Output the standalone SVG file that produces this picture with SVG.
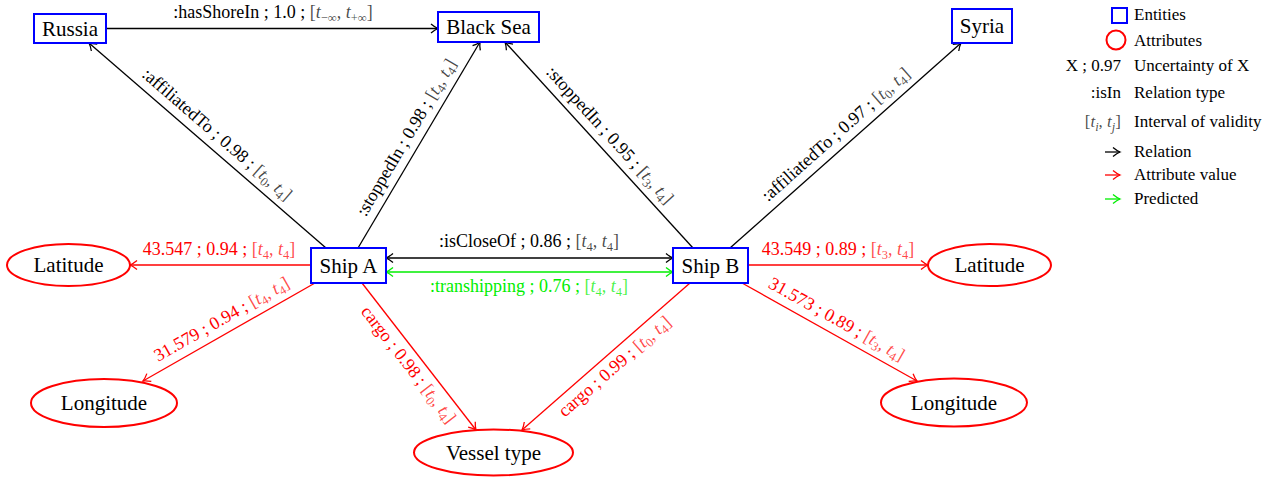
<svg xmlns="http://www.w3.org/2000/svg" width="1279" height="477" viewBox="0 0 1279 477">
<style>
text{font-family:"Liberation Serif","Times New Roman",serif}
.nt{font-size:21px;fill:#000;text-anchor:middle}
.lb{font-size:18px;text-anchor:middle}
.lg{font-size:17px;fill:#000}
.k{fill:#000}
.r{fill:#ff0000}
.g{fill:#00ee00}
.m{fill-opacity:0.72}
.i{font-style:italic}
.s{font-size:12.5px}
.box{fill:#fff;stroke:#0000ff;stroke-width:2}
.ell{fill:#fff;stroke:#ff0000;stroke-width:2}
.ek{stroke:#000;stroke-width:1.3;fill:none}
.er{stroke:#ff0000;stroke-width:1.3;fill:none}
.eg{stroke:#00ee00;stroke-width:1.3;fill:none}
</style>
<defs>
<marker id="ak" viewBox="-8 -6 10 12" refX="0" refY="0" markerWidth="10" markerHeight="12" markerUnits="userSpaceOnUse" orient="auto-start-reverse" overflow="visible"><path d="M -7 -4.5 C -4 -2 -1.5 -0.6 0 0 C -1.5 0.6 -4 2 -7 4.5" fill="none" stroke="#000" stroke-width="1.3"/></marker>
<marker id="ar" viewBox="-8 -6 10 12" refX="0" refY="0" markerWidth="10" markerHeight="12" markerUnits="userSpaceOnUse" orient="auto-start-reverse" overflow="visible"><path d="M -7 -4.5 C -4 -2 -1.5 -0.6 0 0 C -1.5 0.6 -4 2 -7 4.5" fill="none" stroke="#ff0000" stroke-width="1.3"/></marker>
<marker id="ag" viewBox="-8 -6 10 12" refX="0" refY="0" markerWidth="10" markerHeight="12" markerUnits="userSpaceOnUse" orient="auto-start-reverse" overflow="visible"><path d="M -7 -4.5 C -4 -2 -1.5 -0.6 0 0 C -1.5 0.6 -4 2 -7 4.5" fill="none" stroke="#00ee00" stroke-width="1.3"/></marker>
</defs>

<g id="connectors">
<line class="ek" x1="106" y1="28.5" x2="438" y2="28.5" marker-end="url(#ak)"/>
<line class="ek" x1="326" y1="248" x2="89" y2="43" marker-end="url(#ak)"/>
<line class="ek" x1="358" y1="248" x2="480" y2="42" marker-end="url(#ak)"/>
<line class="ek" x1="693" y1="248" x2="505" y2="42" marker-end="url(#ak)"/>
<line class="ek" x1="730" y1="248" x2="961" y2="43" marker-end="url(#ak)"/>
<line class="ek" x1="386" y1="258" x2="673" y2="258" marker-start="url(#ak)" marker-end="url(#ak)"/>
<line class="eg" x1="386" y1="272" x2="673" y2="272" marker-start="url(#ag)" marker-end="url(#ag)"/>
<line class="er" x1="311" y1="265" x2="130" y2="265" marker-end="url(#ar)"/>
<line class="er" x1="315" y1="283" x2="143" y2="381" marker-end="url(#ar)"/>
<line class="er" x1="362" y1="283" x2="476" y2="430" marker-end="url(#ar)"/>
<line class="er" x1="690" y1="283" x2="522" y2="430" marker-end="url(#ar)"/>
<line class="er" x1="748" y1="265" x2="928" y2="265" marker-end="url(#ar)"/>
<line class="er" x1="742" y1="283" x2="917" y2="381" marker-end="url(#ar)"/>

<text class="lb k" x="273" y="18">:hasShoreIn ; 1.0 ; <tspan class="m">[<tspan class="i">t</tspan><tspan class="s" dy="3.5">−∞</tspan><tspan dy="-3.5">, </tspan><tspan class="i">t</tspan><tspan class="s" dy="3.5">+∞</tspan><tspan dy="-3.5">]</tspan></tspan></text>
<text class="lb k" transform="translate(207.5,145.5) rotate(40.86)" y="-9">:affiliatedTo ; 0.98 ; <tspan class="m">[<tspan class="i">t</tspan><tspan class="s" dy="3.5">0</tspan><tspan dy="-3.5">, </tspan><tspan class="i">t</tspan><tspan class="s" dy="3.5">4</tspan><tspan dy="-3.5">]</tspan></tspan></text>
<text class="lb k" transform="translate(419,145) rotate(-59.36)" y="-9">:stoppedIn ; 0.98 ; <tspan class="m">[<tspan class="i">t</tspan><tspan class="s" dy="3.5">4</tspan><tspan dy="-3.5">, </tspan><tspan class="i">t</tspan><tspan class="s" dy="3.5">4</tspan><tspan dy="-3.5">]</tspan></tspan></text>
<text class="lb k" transform="translate(599,145) rotate(47.62)" y="-9">:stoppedIn ; 0.95 ; <tspan class="m">[<tspan class="i">t</tspan><tspan class="s" dy="3.5">3</tspan><tspan dy="-3.5">, </tspan><tspan class="i">t</tspan><tspan class="s" dy="3.5">4</tspan><tspan dy="-3.5">]</tspan></tspan></text>
<text class="lb k" transform="translate(845.5,145.5) rotate(-41.58)" y="-9">:affiliatedTo ; 0.97 ; <tspan class="m">[<tspan class="i">t</tspan><tspan class="s" dy="3.5">0</tspan><tspan dy="-3.5">, </tspan><tspan class="i">t</tspan><tspan class="s" dy="3.5">4</tspan><tspan dy="-3.5">]</tspan></tspan></text>
<text class="lb k" x="529" y="247">:isCloseOf ; 0.86 ; <tspan class="m">[<tspan class="i">t</tspan><tspan class="s" dy="3.5">4</tspan><tspan dy="-3.5">, </tspan><tspan class="i">t</tspan><tspan class="s" dy="3.5">4</tspan><tspan dy="-3.5">]</tspan></tspan></text>
<text class="lb g" x="529" y="292">:transhipping ; 0.76 ; <tspan class="m">[<tspan class="i">t</tspan><tspan class="s" dy="3.5">4</tspan><tspan dy="-3.5">, </tspan><tspan class="i">t</tspan><tspan class="s" dy="3.5">4</tspan><tspan dy="-3.5">]</tspan></tspan></text>
<text class="lb r" x="219" y="255">43.547 ; 0.94 ; <tspan class="m">[<tspan class="i">t</tspan><tspan class="s" dy="3.5">4</tspan><tspan dy="-3.5">, </tspan><tspan class="i">t</tspan><tspan class="s" dy="3.5">4</tspan><tspan dy="-3.5">]</tspan></tspan></text>
<text class="lb r" transform="translate(229,332) rotate(-29.67)" y="-9">31.579 ; 0.94 ; <tspan class="m">[<tspan class="i">t</tspan><tspan class="s" dy="3.5">4</tspan><tspan dy="-3.5">, </tspan><tspan class="i">t</tspan><tspan class="s" dy="3.5">4</tspan><tspan dy="-3.5">]</tspan></tspan></text>
<text class="lb r" transform="translate(419,356.5) rotate(52.2)" y="19">cargo ; 0.98 ; <tspan class="m">[<tspan class="i">t</tspan><tspan class="s" dy="3.5">0</tspan><tspan dy="-3.5">, </tspan><tspan class="i">t</tspan><tspan class="s" dy="3.5">4</tspan><tspan dy="-3.5">]</tspan></tspan></text>
<text class="lb r" transform="translate(606,356.5) rotate(-41.19)" y="19">cargo ; 0.99 ; <tspan class="m">[<tspan class="i">t</tspan><tspan class="s" dy="3.5">0</tspan><tspan dy="-3.5">, </tspan><tspan class="i">t</tspan><tspan class="s" dy="3.5">4</tspan><tspan dy="-3.5">]</tspan></tspan></text>
<text class="lb r" x="838" y="255">43.549 ; 0.89 ; <tspan class="m">[<tspan class="i">t</tspan><tspan class="s" dy="3.5">3</tspan><tspan dy="-3.5">, </tspan><tspan class="i">t</tspan><tspan class="s" dy="3.5">4</tspan><tspan dy="-3.5">]</tspan></tspan></text>
<text class="lb r" transform="translate(829.5,332) rotate(29.25)" y="-9">31.573 ; 0.89 ; <tspan class="m">[<tspan class="i">t</tspan><tspan class="s" dy="3.5">3</tspan><tspan dy="-3.5">, </tspan><tspan class="i">t</tspan><tspan class="s" dy="3.5">4</tspan><tspan dy="-3.5">]</tspan></tspan></text>
</g>

<g id="russia"><rect class="box" x="34" y="14" width="72" height="29"/><text class="nt" x="70" y="35.5">Russia</text></g>
<g id="blacksea"><rect class="box" x="438" y="12" width="101" height="30"/><text class="nt" x="488.5" y="34">Black Sea</text></g>
<g id="syria"><rect class="box" x="952" y="9" width="60" height="34"/><text class="nt" x="982" y="33">Syria</text></g>
<g id="shipA"><rect class="box" x="311" y="248" width="75" height="35"/><text class="nt" x="348.5" y="272.5">Ship A</text></g>
<g id="shipB"><rect class="box" x="673" y="248" width="75" height="35"/><text class="nt" x="710.5" y="272.5">Ship B</text></g>
<g id="latA"><ellipse class="ell" cx="68.5" cy="265" rx="61.5" ry="21"/><text class="nt" x="68.5" y="272">Latitude</text></g>
<g id="lonA"><ellipse class="ell" cx="104" cy="403" rx="73" ry="24"/><text class="nt" x="104" y="410">Longitude</text></g>
<g id="vessel"><ellipse class="ell" cx="493.5" cy="452.5" rx="79.5" ry="23"/><text class="nt" x="493.5" y="459.5">Vessel type</text></g>
<g id="latB"><ellipse class="ell" cx="989.5" cy="265" rx="61.5" ry="21"/><text class="nt" x="989.5" y="272">Latitude</text></g>
<g id="lonB"><ellipse class="ell" cx="954" cy="402.5" rx="73" ry="24"/><text class="nt" x="954" y="409.5">Longitude</text></g>

<g id="legend">
<rect x="1112" y="8" width="15" height="15" fill="none" stroke="#0000ff" stroke-width="2"/>
<text class="lg" x="1134" y="20">Entities</text>
<circle cx="1116" cy="40" r="9.5" fill="none" stroke="#ff0000" stroke-width="2"/>
<text class="lg" x="1134" y="46">Attributes</text>
<text class="lg" x="1121" y="71" text-anchor="end">X ; 0.97</text>
<text class="lg" x="1134" y="71">Uncertainty of X</text>
<text class="lg" x="1121" y="98" text-anchor="end">:isIn</text>
<text class="lg" x="1134" y="98">Relation type</text>
<text class="lg" x="1121" y="127" text-anchor="end"><tspan class="m">[<tspan class="i">t</tspan><tspan class="s" dy="3.5" font-style="italic">i</tspan><tspan dy="-3.5">, </tspan><tspan class="i">t</tspan><tspan class="s" dy="3.5" font-style="italic">j</tspan><tspan dy="-3.5">]</tspan></tspan></text>
<text class="lg" x="1134" y="127">Interval of validity</text>
<line class="ek" x1="1105" y1="152" x2="1120" y2="152" marker-end="url(#ak)"/>
<text class="lg" x="1134" y="157">Relation</text>
<line class="er" x1="1105" y1="175" x2="1120" y2="175" marker-end="url(#ar)"/>
<text class="lg" x="1134" y="180">Attribute value</text>
<line class="eg" x1="1105" y1="199" x2="1120" y2="199" marker-end="url(#ag)"/>
<text class="lg" x="1134" y="204">Predicted</text>
</g>
</svg>
